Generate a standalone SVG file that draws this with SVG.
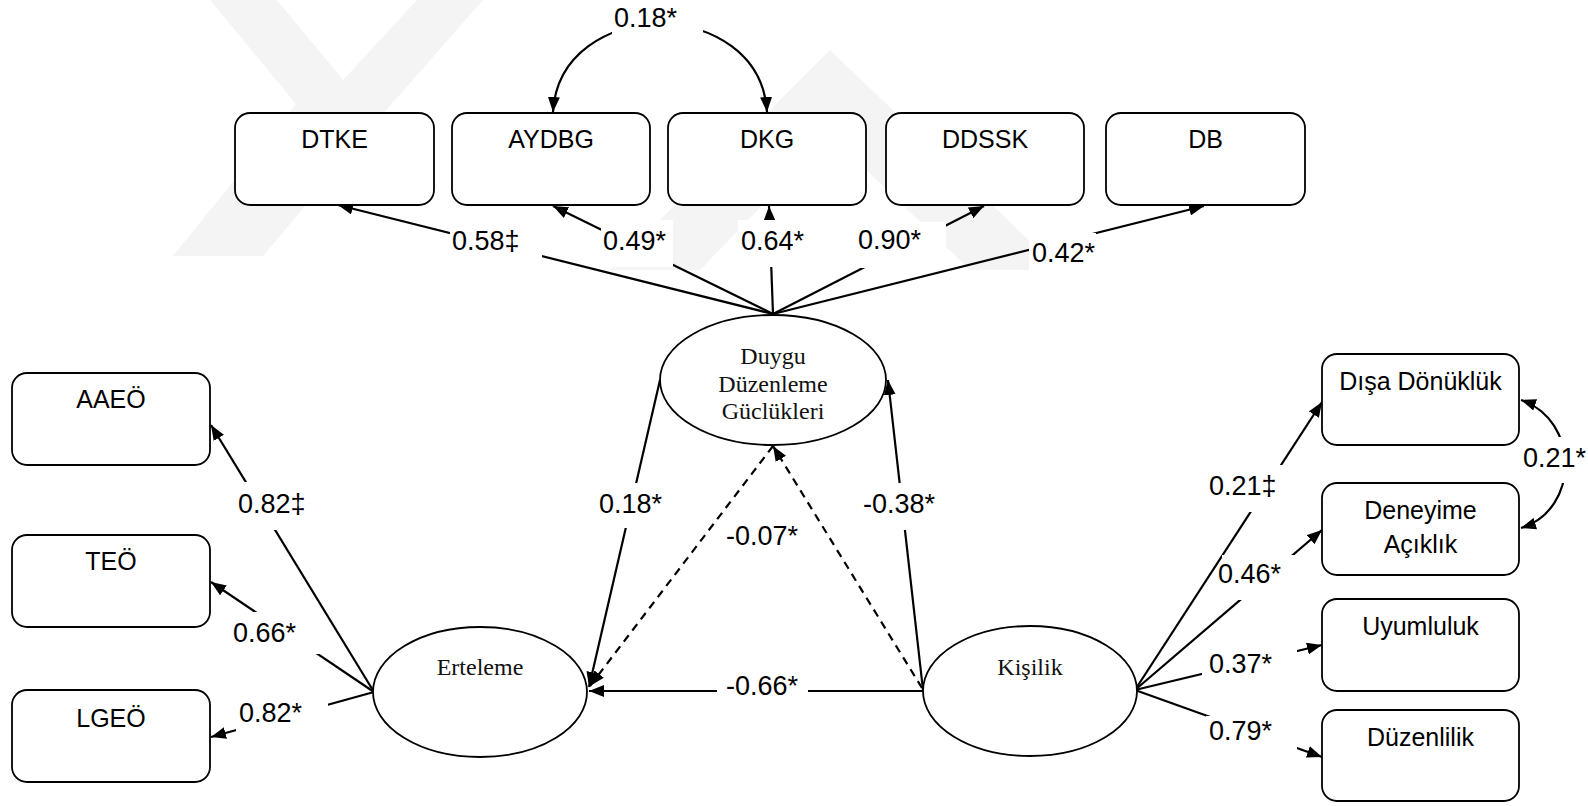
<svg xmlns="http://www.w3.org/2000/svg" width="1588" height="806" viewBox="0 0 1588 806">
<style>
.box{fill:#fff;stroke:#000;stroke-width:1.8}
.ell{fill:#fff;stroke:#000;stroke-width:1.8}
.bt{font-family:"Liberation Sans",Arial,sans-serif;font-size:25px;fill:#000;text-anchor:middle}
.et{font-family:"Liberation Serif","Times New Roman",serif;font-size:24px;fill:#111;text-anchor:middle}
.lt{font-family:"Liberation Sans",Arial,sans-serif;font-size:27px;fill:#000}
.ln{fill:none;stroke:#000;stroke-width:2.2}
.ar{marker-end:url(#ah)}
.da{stroke-dasharray:8 6}
.lb{fill:#fff;stroke:none}
.wm{fill:#f4f4f4;stroke:none}
</style>
<defs>
<marker id="ah" viewBox="0 0 15 12" refX="15" refY="6" markerWidth="15" markerHeight="12" markerUnits="userSpaceOnUse" orient="auto">
<path d="M0,0 L15,6 L0,12 z" fill="#000"/>
</marker>
<marker id="as" viewBox="0 0 15 12" refX="15" refY="6" markerWidth="15" markerHeight="12" markerUnits="userSpaceOnUse" orient="auto-start-reverse">
<path d="M0,0 L15,6 L0,12 z" fill="#000"/>
</marker>
</defs>
<rect width="1588" height="806" fill="#fff"/>
<g id="watermark">
<polygon class="wm" points="210,0 277,0 343,80 417,0 483,0 381,116 263,256 173,256 296,104"/>
<polygon class="wm" points="830,50 1060,270 970,270 830,135 700,270 610,270"/>
</g>
<g id="connectors">
<line class="ln ar" x1="773" y1="314" x2="338" y2="205"/>
<line class="ln ar" x1="773" y1="314" x2="553" y2="206"/>
<line class="ln ar" x1="773" y1="314" x2="769" y2="206"/>
<line class="ln ar" x1="773" y1="314" x2="984" y2="206"/>
<line class="ln ar" x1="773" y1="314" x2="1204" y2="206"/>
<line class="ln ar" x1="374" y1="692" x2="211" y2="425"/>
<line class="ln ar" x1="374" y1="692" x2="211" y2="582"/>
<line class="ln ar" x1="374" y1="692" x2="211" y2="737"/>
<line class="ln ar" x1="1135" y1="690" x2="1322" y2="402"/>
<line class="ln ar" x1="1135" y1="690" x2="1322" y2="530"/>
<line class="ln ar" x1="1135" y1="690" x2="1322" y2="645"/>
<line class="ln ar" x1="1135" y1="690" x2="1322" y2="757"/>
<line class="ln ar" x1="660" y1="380" x2="589" y2="687"/>
<line class="ln ar" x1="923" y1="690" x2="888" y2="380"/>
<line class="ln ar" x1="923" y1="691" x2="589" y2="691"/>
<line class="ln ar da" x1="922" y1="688" x2="773" y2="446"/>
<line class="ln ar da" x1="773" y1="446" x2="590" y2="686"/>
<path class="ln" d="M553,112 C560,-5 760,-5 767,112" marker-start="url(#as)" marker-end="url(#as)"/>
<path class="ln" d="M1521,400 C1580,420 1580,510 1521,528" marker-start="url(#as)" marker-end="url(#as)"/>
<g id="labels">
<rect class="lb" x="612" y="0" width="91" height="43"/>
<text class="lt" x="614" y="27">0.18*</text>
<rect class="lb" x="450" y="221" width="92" height="40"/>
<text class="lt" x="452" y="250">0.58‡</text>
<rect class="lb" x="601" y="220" width="72" height="47"/>
<text class="lt" x="603" y="250">0.49*</text>
<rect class="lb" x="738" y="220" width="68" height="47"/>
<text class="lt" x="741" y="250">0.64*</text>
<rect class="lb" x="855" y="222" width="91" height="46"/>
<text class="lt" x="858" y="249">0.90*</text>
<rect class="lb" x="1029" y="233" width="67" height="40"/>
<text class="lt" x="1032" y="262">0.42*</text>
<rect class="lb" x="236" y="482" width="72" height="48"/>
<text class="lt" x="238" y="513">0.82‡</text>
<rect class="lb" x="230" y="612" width="90" height="42"/>
<text class="lt" x="233" y="642">0.66*</text>
<rect class="lb" x="236" y="700" width="92" height="35"/>
<text class="lt" x="239" y="722">0.82*</text>
<rect class="lb" x="596" y="483" width="69" height="45"/>
<text class="lt" x="599" y="513">0.18*</text>
<rect class="lb" x="860" y="483" width="76" height="47"/>
<text class="lt" x="863" y="513">-0.38*</text>
<text class="lt" x="726" y="545">-0.07*</text>
<rect class="lb" x="717" y="675" width="91" height="33"/>
<text class="lt" x="726" y="695">-0.66*</text>
<rect class="lb" x="1206" y="465" width="79" height="47"/>
<text class="lt" x="1209" y="495">0.21‡</text>
<rect class="lb" x="1222" y="555" width="74" height="45"/>
<text class="lt" x="1218" y="583">0.46*</text>
<rect class="lb" x="1202" y="648" width="95" height="32"/>
<text class="lt" x="1209" y="673">0.37*</text>
<rect class="lb" x="1206" y="716" width="91" height="36"/>
<text class="lt" x="1209" y="740">0.79*</text>
<rect class="lb" x="1521" y="437" width="67" height="46"/>
<text class="lt" x="1523" y="467">0.21*</text>
</g>
</g>
<g id="n-dtke"><rect class="box" x="235" y="113" width="199" height="92" rx="15"/><text class="bt" x="334.5" y="148">DTKE</text></g>
<g id="n-aydbg"><rect class="box" x="452" y="113" width="198" height="92" rx="15"/><text class="bt" x="551" y="148">AYDBG</text></g>
<g id="n-dkg"><rect class="box" x="668" y="113" width="198" height="92" rx="15"/><text class="bt" x="767" y="148">DKG</text></g>
<g id="n-ddssk"><rect class="box" x="886" y="113" width="198" height="92" rx="15"/><text class="bt" x="985" y="148">DDSSK</text></g>
<g id="n-db"><rect class="box" x="1106" y="113" width="199" height="92" rx="15"/><text class="bt" x="1205.5" y="148">DB</text></g>
<g id="n-aaeo"><rect class="box" x="12" y="373" width="198" height="92" rx="15"/><text class="bt" x="111" y="408">AAEÖ</text></g>
<g id="n-teo"><rect class="box" x="12" y="535" width="198" height="92" rx="15"/><text class="bt" x="111" y="570">TEÖ</text></g>
<g id="n-lgeo"><rect class="box" x="12" y="690" width="198" height="92" rx="15"/><text class="bt" x="111" y="727">LGEÖ</text></g>
<g id="n-disa"><rect class="box" x="1322" y="354" width="197" height="91" rx="15"/><text class="bt" x="1420.5" y="390">Dışa Dönüklük</text></g>
<g id="n-deneyime"><rect class="box" x="1322" y="483" width="197" height="92" rx="15"/><text class="bt" x="1420.5" y="519">Deneyime</text><text class="bt" x="1420.5" y="553">Açıklık</text></g>
<g id="n-uyum"><rect class="box" x="1322" y="599" width="197" height="92" rx="15"/><text class="bt" x="1420.5" y="635">Uyumluluk</text></g>
<g id="n-duzen"><rect class="box" x="1322" y="710" width="197" height="91" rx="15"/><text class="bt" x="1420.5" y="746">Düzenlilik</text></g>
<g id="n-ddg"><ellipse class="ell" cx="773" cy="380" rx="113" ry="65"/><text class="et" x="773" y="364">Duygu</text><text class="et" x="773" y="392">Düzenleme</text><text class="et" x="773" y="419">Güclükleri</text></g>
<g id="n-erteleme"><ellipse class="ell" cx="480" cy="692" rx="107" ry="65"/><text class="et" x="480" y="675">Erteleme</text></g>
<g id="n-kisilik"><ellipse class="ell" cx="1030" cy="691" rx="107" ry="65"/><text class="et" x="1030" y="675">Kişilik</text></g>
</svg>
